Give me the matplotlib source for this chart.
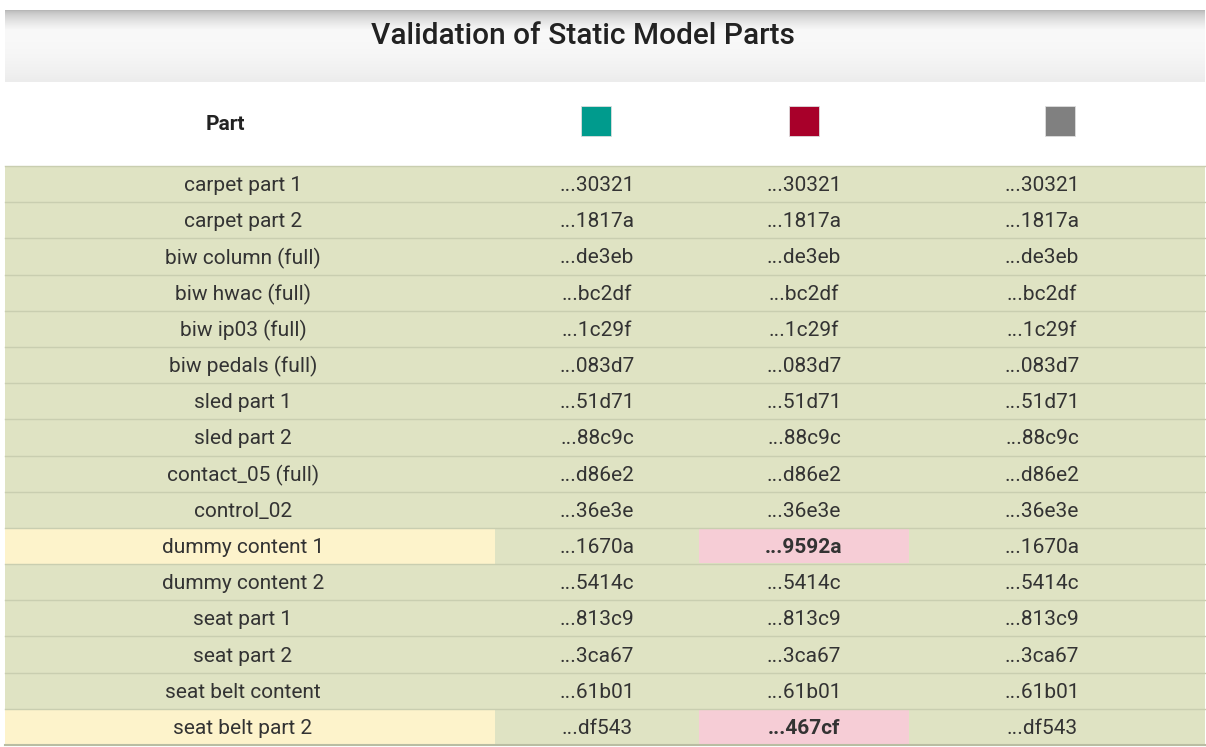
import matplotlib
matplotlib.use("Agg")
import matplotlib.pyplot as plt
import numpy as np
from matplotlib.patches import Rectangle

plt.rcParams['font.family'] = ['Roboto', 'DejaVu Sans']

title = "Validation of Static Model Parts"
header_part = "Part"
series_colors = ["#009b8d", "#a8002a", "#808080"]

parts = ["carpet part 1", "carpet part 2", "biw column (full)", "biw hwac (full)",
         "biw ip03 (full)", "biw pedals (full)", "sled part 1", "sled part 2",
         "contact_05 (full)", "control_02", "dummy content 1", "dummy content 2",
         "seat part 1", "seat part 2", "seat belt content", "seat belt part 2"]
col_a = ["...30321", "...1817a", "...de3eb", "...bc2df", "...1c29f", "...083d7",
         "...51d71", "...88c9c", "...d86e2", "...36e3e", "...1670a", "...5414c",
         "...813c9", "...3ca67", "...61b01", "...df543"]
col_b = ["...30321", "...1817a", "...de3eb", "...bc2df", "...1c29f", "...083d7",
         "...51d71", "...88c9c", "...d86e2", "...36e3e", "...9592a", "...5414c",
         "...813c9", "...3ca67", "...61b01", "...467cf"]
col_c = ["...30321", "...1817a", "...de3eb", "...bc2df", "...1c29f", "...083d7",
         "...51d71", "...88c9c", "...d86e2", "...36e3e", "...1670a", "...5414c",
         "...813c9", "...3ca67", "...61b01", "...df543"]

W, H = 1206, 747
fig = plt.figure(figsize=(W / 100, H / 100), dpi=100)
ax = fig.add_axes([0, 0, 1, 1])
ax.set_xlim(0, W)
ax.set_ylim(H, 0)
ax.axis('off')

# layout
left, right = 5, 1205
col_edges = [left, 495, 699, 909, right]
text_x = [243, 597, 804, 1042]
swatch_x = [596, 804, 1060]
title_top, title_bot = 10, 82
head_bot = 166
row_h = (745 - head_bot) / len(parts)

GREEN = "#dfe3c3"
YELLOW = "#fdf3cb"
PINK = "#f6cdd6"
LINE = "#c9ceb0"
TXT = "#333333"

# title bar gradient
ys = np.linspace(0, 1, 200)
vals = np.where(ys < 0.28, 0.70 + (0.975 - 0.70) * np.clip(ys / 0.28, 0, 1) ** 0.6,
                0.975 - 0.05 * ((ys - 0.28) / 0.72) ** 2)
grad = np.repeat(vals[:, None], 2, axis=1)
ax.imshow(np.dstack([grad, grad, grad]), extent=(left, right, title_bot, title_top),
          aspect='auto', interpolation='bilinear', zorder=0)
ax.text(583, 36, title, ha='center', va='center', fontsize=21.5,
        fontweight='medium', color="#222222", zorder=3)
ax.set_xlim(0, W)
ax.set_ylim(H, 0)

# header
ax.text(225, 124, header_part, ha='center', va='center', fontsize=15,
        fontweight='bold', color="#222222")
for x, c in zip(swatch_x, series_colors):
    ax.add_patch(Rectangle((x - 15, 106), 30, 30, facecolor=c, edgecolor='#dddddd',
                           linewidth=0.6, zorder=2))

# rows
FS = 15
for i, (p, a, b, c) in enumerate(zip(parts, col_a, col_b, col_c)):
    y0 = head_bot + i * row_h
    mismatch_b = b != a
    mismatch_c = c != a
    row_bad = mismatch_b or mismatch_c
    ax.add_patch(Rectangle((left, y0), right - left, row_h, facecolor=GREEN,
                           edgecolor='none', zorder=1))
    if row_bad:
        ax.add_patch(Rectangle((col_edges[0], y0), col_edges[1] - col_edges[0], row_h,
                               facecolor=YELLOW, edgecolor='none', zorder=1.5))
    if mismatch_b:
        ax.add_patch(Rectangle((col_edges[2], y0 + 1), col_edges[3] - col_edges[2], row_h - 2,
                               facecolor=PINK, edgecolor='none', zorder=1.5))
    if mismatch_c:
        ax.add_patch(Rectangle((col_edges[3], y0 + 1), col_edges[4] - col_edges[3], row_h - 2,
                               facecolor=PINK, edgecolor='none', zorder=1.5))
    ax.plot([left, right], [y0, y0], color=LINE, lw=1.0, zorder=2)
    yc = y0 + row_h / 2 + 1.5
    ax.text(text_x[0], yc, p, ha='center', va='center', fontsize=FS, color=TXT, zorder=3)
    ax.text(text_x[1], yc, a, ha='center', va='center', fontsize=FS, color=TXT, zorder=3)
    ax.text(text_x[2], yc, b, ha='center', va='center', fontsize=FS, color=TXT, zorder=3,
            fontweight='bold' if mismatch_b else 'normal')
    ax.text(text_x[3], yc, c, ha='center', va='center', fontsize=FS, color=TXT, zorder=3,
            fontweight='bold' if mismatch_c else 'normal')
ax.plot([left, right], [head_bot + len(parts) * row_h] * 2, color="#b9bda2", lw=1.5, zorder=2)

fig.savefig("out.png", dpi=100, facecolor='white')
